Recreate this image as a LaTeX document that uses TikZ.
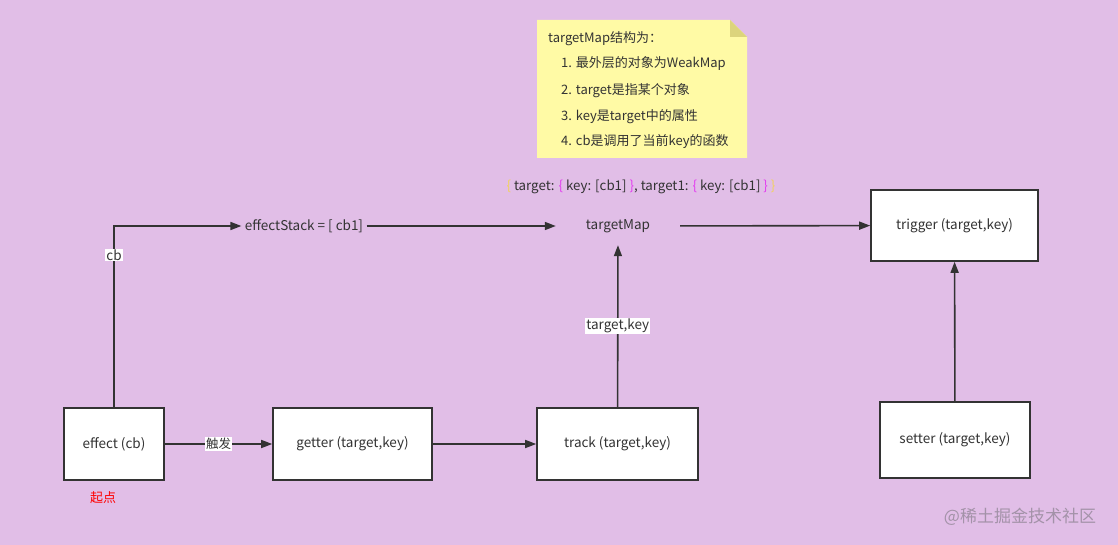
\documentclass[tikz,border=0pt]{standalone}
\usepackage{fontspec}
\setmainfont{Noto Sans CJK SC}
\usetikzlibrary{arrows.meta}

\definecolor{bg}{HTML}{E1BEE7}
\definecolor{ink}{HTML}{333333}
\definecolor{notefill}{HTML}{FFFAA5}
\definecolor{notefold}{HTML}{DCD47C}
\definecolor{braceY}{HTML}{F2D25C}
\definecolor{braceM}{HTML}{E33CF0}
\definecolor{mark}{HTML}{A392A8}

\tikzset{
  box/.style={draw=ink, line width=1.6pt, fill=white, minimum height=72pt},
  conn/.style={draw=ink, line width=1.6pt, -{Triangle[length=11pt,width=8pt]}},
  tag/.style={fill=white, inner sep=1pt},
  notetext/.style={anchor=west, inner sep=0pt, font=\fontsize{13}{15}\selectfont}
}

\begin{document}
\begin{tikzpicture}[x=1pt, y=-1pt, font=\fontsize{13.5}{16}\selectfont, text=ink]
    \fill[bg] (0,0) rectangle (1118,545);
    \useasboundingbox (0,0) rectangle (1118,545);

    % note
    \fill[notefill] (537,20) -- (730,20) -- (747,37) -- (747,158) -- (537,158) -- cycle;
    \fill[notefold] (730,20) -- (747,37) -- (730,37) -- cycle;
    \node[notetext] (title) at (548,39) {targetMap结构为：};
    \node[notetext] (item1) at (561,64) {1. 最外层的对象为WeakMap};
    \node[notetext] (item2) at (561,91) {2. target是指某个对象};
    \node[notetext] (item3) at (561,117) {3. key是target中的属性};
    \node[notetext] (item4) at (561,142) {4. cb是调用了当前key的函数};

    \node[font=\fontsize{13.3}{15}\selectfont] (mapstr) at (641,187)
        {\textcolor{braceY}{\{} target: \textcolor{braceM}{\{} key: [cb1] \textcolor{braceM}{\}}, target1: \textcolor{braceM}{\{} key: [cb1] \textcolor{braceM}{\}} \textcolor{braceY}{\}}};

    % boxes
    \node[box, minimum width=100pt] (effect) at (114,444) {effect (cb)};
    \node[box, minimum width=159pt] (getter) at (352.5,444) {getter (target,key)};
    \node[box, minimum width=161pt] (track) at (617.5,444) {track (target,key)};
    \node[box, minimum width=150pt, minimum height=76pt] (setter) at (955,440) {setter (target,key)};
    \node[box, minimum width=167pt, minimum height=71pt] (trigger) at (954.5,225.5) {trigger (target,key)};
    \node (stack) at (304,226) {effectStack = [ cb1]};
    \node[minimum width=124pt, minimum height=38pt] (tmap) at (618,226) {targetMap};

    \node[text=red, font=\fontsize{13}{15}\selectfont] (start) at (103,498) {起点};
    \node[text=mark, font=\fontsize{17}{20}\selectfont] (wm) at (1020,517) {@稀土掘金技术社区};

    % connectors
    \draw[conn] (effect.north) |- (stack.west) node[pos=0.42, tag]{cb};
    \draw[conn] (stack) -- (tmap);
    \draw[conn] (tmap) -- (trigger);
    \draw[conn] (effect) -- (getter) node[midway, tag, font=\fontsize{12.5}{15}\selectfont]{触发};
    \draw[conn] (getter) -- (track);
    \draw[conn] (track) -- (tmap) node[midway, tag]{target,key};
    \draw[conn] (setter) -- (trigger);
\end{tikzpicture}
\end{document}
